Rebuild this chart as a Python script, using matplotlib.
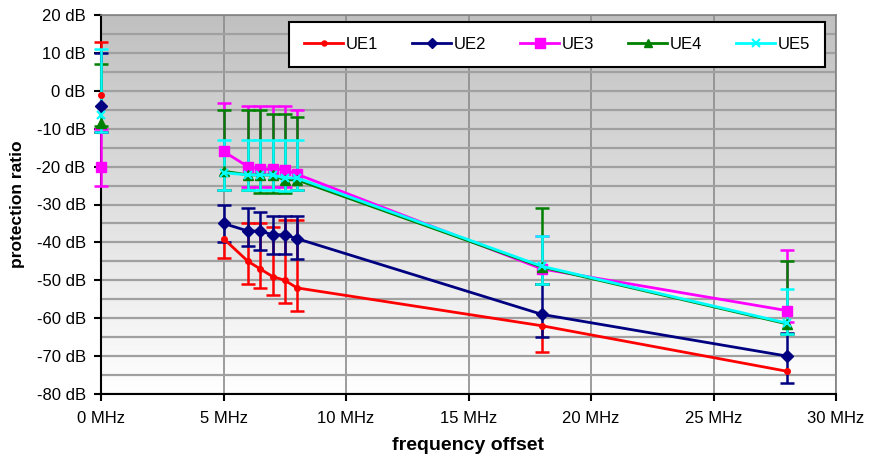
import numpy as np
import matplotlib
matplotlib.use("Agg")
from matplotlib import pyplot as plt
from matplotlib.ticker import MultipleLocator, FuncFormatter

plt.rcParams['font.family'] = ['Liberation Sans', 'DejaVu Sans']

freq = [0, 5, 6, 6.5, 7, 7.5, 8, 18, 28]

ue1 = [-1, -39, -45, -47, -49, -50, -52, -62, -74]
ue1_hi = [13, -39, -35, -35, -36, -34, -34, -62, -74]
ue1_lo = [-11, -44, -51, -52, -54, -56, -58, -69, -74]

ue2 = [-4, -35, -37, -37, -38, -38, -39, -59, -70]
ue2_hi = [10, -30, -31, -32, -33, -33, -33, -51, -64]
ue2_lo = [-11, -40, -41, -42, -43, -43, -44.5, -65, -77]

ue3 = [-20, -16, -20, -20.7, -20.7, -20.8, -22, -47, -58]
ue3_hi = [-10, -3.3, -4.1, -4.1, -4.1, -4.1, -5, -38.3, -42]
ue3_lo = [-25, -26.2, -25.3, -25.3, -25.3, -25.3, -26.2, -51.1, -61]

ue4 = [-8.5, -21.2, -22.2, -22.2, -22.2, -23.5, -23.5, -46.5, -61.5]
ue4_hi = [7, -5, -5, -5, -6.1, -6.1, -7, -31, -45]
ue4_lo = [-9.4, -26.2, -26.2, -27, -27, -27, -26.2, -51.1, -64.2]

ue5 = [-6.5, -21.6, -22.2, -22.2, -22.2, -23, -23, -46.3, -61.3]
ue5_hi = [11, -13.1, -13.1, -13.1, -13.1, -13.1, -13.1, -38.3, -52.3]
ue5_lo = [-11, -26.2, -26.2, -26.2, -26.2, -26.4, -26.2, -51.1, -64.2]

names = ['UE1', 'UE2', 'UE3', 'UE4', 'UE5']
colors = ['#ff0000', '#000080', '#ff00ff', '#008000', '#00ffff']
markers = ['o', 'D', 's', '^', 'x']
msizes = [4, 6, 7.5, 6.5, 6]

series = [(ue1, ue1_lo, ue1_hi), (ue2, ue2_lo, ue2_hi), (ue3, ue3_lo, ue3_hi),
          (ue4, ue4_lo, ue4_hi), (ue5, ue5_lo, ue5_hi)]

fig = plt.figure(figsize=(8.69, 4.63), dpi=100)
ax = fig.add_axes([101/869, 1 - 394/463, 735/869, 379/463])

# gray -> white gradient background
grad = np.linspace(0, 1, 256).reshape(-1, 1)
cmap = matplotlib.colors.LinearSegmentedColormap.from_list('g', ['#c0c0c0', '#ffffff'])
ax.imshow(grad, cmap=cmap, extent=[0, 30, -80, 20], aspect='auto', origin='upper', zorder=0)
ax.set_xlim(0, 30)
ax.set_ylim(-80, 20)

ax.yaxis.set_major_locator(MultipleLocator(10))
ax.yaxis.set_minor_locator(MultipleLocator(5))
ax.xaxis.set_major_locator(MultipleLocator(5))
ax.grid(True, which='major', axis='x', color='#8c8c8c', lw=1.2, zorder=1)
ax.grid(True, which='both', axis='y', color='#a0a0a0', lw=1.6, zorder=1)
ax.set_axisbelow(True)

# error bars first (caps only where the bar has length), then lines and markers
x = np.array(freq)
for (vals, lo, hi), c in zip(series, colors):
    v, lo, hi = np.array(vals), np.array(lo), np.array(hi)
    ax.vlines(x, lo, hi, color=c, lw=1.8, zorder=3, clip_on=False)
    for ends in (lo, hi):
        keep = ends != v
        ax.plot(x[keep], ends[keep], ls='none', marker='_', ms=10, mew=1.8,
                color=c, zorder=3, clip_on=False)

for (vals, lo, hi), c, m, ms, n in zip(series, colors, markers, msizes, names):
    mew = 1.5 if m == 'x' else 1
    # the 0 MHz point stands alone, the line starts at 5 MHz
    ax.plot(freq[1:], vals[1:], color=c, lw=2, marker=m, ms=ms, mec=c, mfc=c,
            mew=mew, label=n, zorder=4)
    ax.plot(freq[:1], vals[:1], ls='none', marker=m, ms=ms, mec=c, mfc=c,
            mew=mew, zorder=4, clip_on=False)

ax.yaxis.set_major_formatter(FuncFormatter(lambda v, p: '%d dB' % v))
ax.xaxis.set_major_formatter(FuncFormatter(lambda v, p: '%d MHz' % v))
ax.tick_params(axis='both', which='major', labelsize=12, length=5, width=1.5, direction='out')
ax.tick_params(axis='y', which='minor', length=0)
ax.tick_params(axis='y', pad=6)
ax.tick_params(axis='x', pad=7)

for s in ['left', 'bottom']:
    ax.spines[s].set_color('black')
    ax.spines[s].set_linewidth(1.5)
for s in ['top', 'right']:
    ax.spines[s].set_color('#808080')
    ax.spines[s].set_linewidth(1.2)

ax.set_xlabel('frequency offset', fontsize=14, fontweight='bold', labelpad=8)
ax.set_ylabel('protection ratio', fontsize=12.5, fontweight='bold', labelpad=8)

leg = ax.legend(loc='center', ncol=5, bbox_to_anchor=(0.245, 0.853, 0.752, 0.14),
                mode='expand', fontsize=12, frameon=True, fancybox=False,
                handlelength=2.3, handletextpad=0.2, borderpad=0.9, markerscale=0.9)
leg.get_frame().set_edgecolor('black')
leg.get_frame().set_linewidth(1.5)
leg.get_frame().set_facecolor('white')
leg.get_frame().set_alpha(1)
leg.set_zorder(10)

fig.savefig('out.png', dpi=100)
